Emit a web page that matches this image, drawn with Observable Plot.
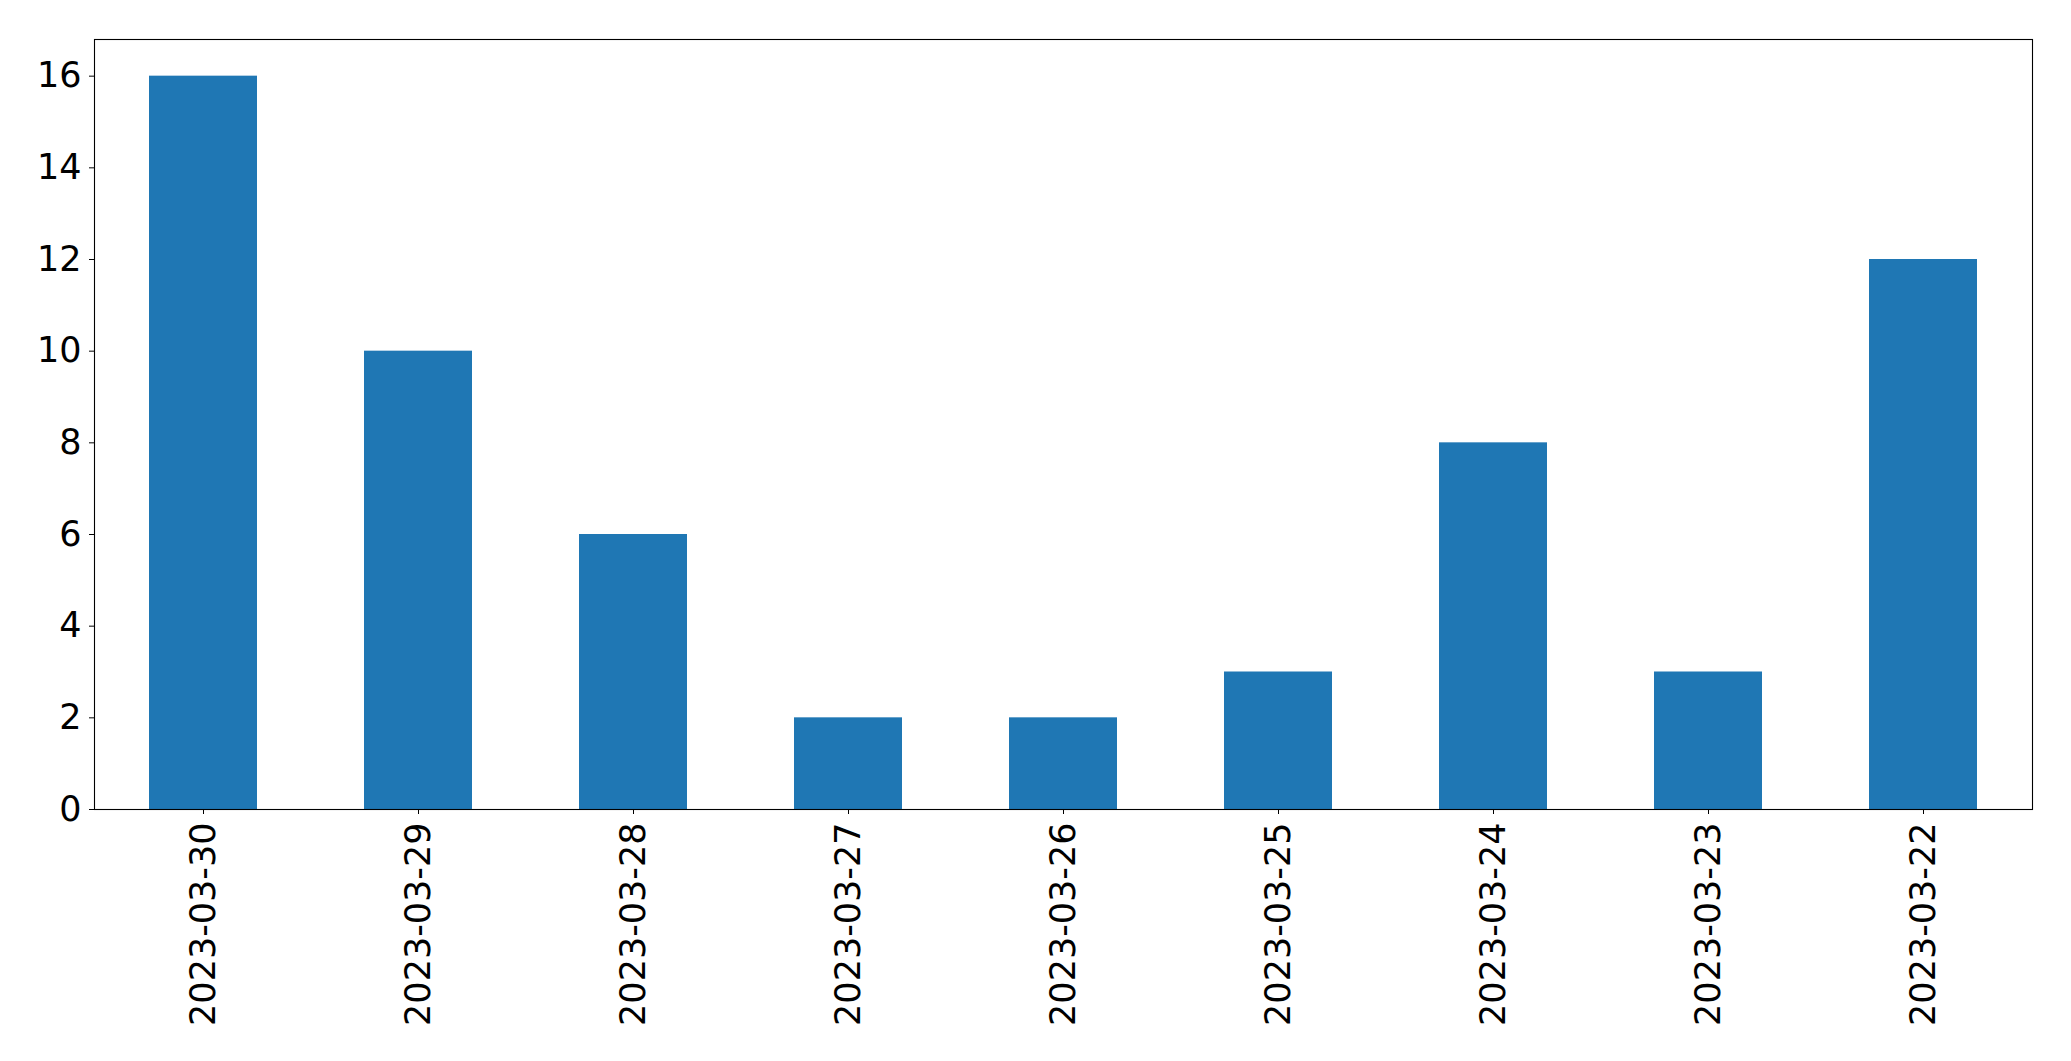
<!DOCTYPE html>
<html>
<head>
<meta charset="utf-8">
<script src="https://cdn.jsdelivr.net/npm/d3@7"></script>
<script src="https://cdn.jsdelivr.net/npm/@observablehq/plot@0.6"></script>
<style>
  html, body { margin: 0; padding: 0; background: white; }
  #chart svg { display: block; }
</style>
</head>
<body>
<div id="chart"></div>
<script>
const dates = ["2023-03-30","2023-03-29","2023-03-28","2023-03-27","2023-03-26","2023-03-25","2023-03-24","2023-03-23","2023-03-22"];
const counts = [16, 10, 6, 2, 2, 3, 8, 3, 12];
const yTicks = [0, 2, 4, 6, 8, 10, 12, 14, 16];

const data = dates.map((d, i) => ({date: d, count: counts[i]}));

const chart = Plot.plot({
  width: 2071,
  height: 1061,
  marginLeft: 94,
  marginRight: 39,
  marginTop: 39,
  marginBottom: 252,
  style: {fontFamily: "'DejaVu Sans', sans-serif", fontSize: "35px", color: "black", background: "white"},
  x: {domain: dates, paddingInner: 0.5, paddingOuter: 0.25, label: null},
  y: {domain: [0, 16.8], label: null},
  marks: [
    Plot.barY(data, {x: "date", y: "count", fill: "#1f77b4"}),
    Plot.axisX({tickRotate: -90, tickSize: 5, tickPadding: 8, fontSize: 35, label: null}),
    Plot.axisY({ticks: yTicks, tickSize: 5, tickPadding: 8, fontSize: 35, label: null}),
    Plot.frame({stroke: "black", strokeWidth: 1.1})
  ]
});
document.getElementById("chart").appendChild(chart);
</script>
</body>
</html>
